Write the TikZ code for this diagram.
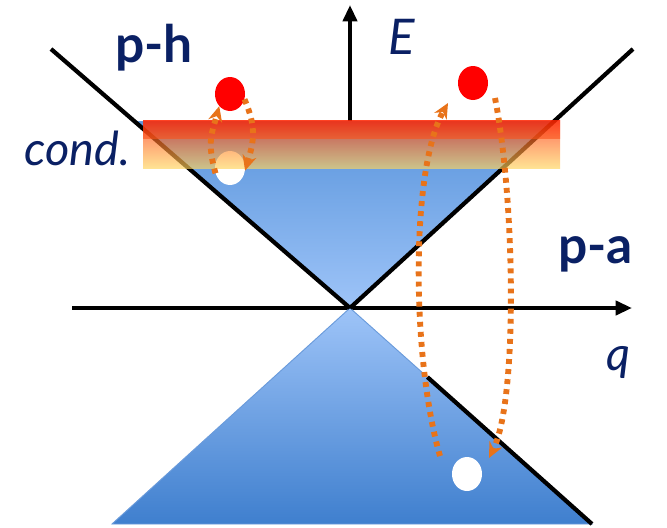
\documentclass[tikz,border=0pt]{standalone}
\usepackage{fontspec}
\setmainfont{Lato}
\usepackage{xcolor}
\usepackage{tikz}
\usetikzlibrary{arrows.meta,calc,shapes.geometric}
\definecolor{navy}{HTML}{0A2064}
\definecolor{hopc}{HTML}{E8731A}
\definecolor{conelight}{HTML}{9EC4F8}
\definecolor{conedark}{HTML}{5A95DC}
\definecolor{conedeep}{HTML}{3F7FCE}
\definecolor{coneedge}{HTML}{6A9BDB}
\definecolor{bandtop}{HTML}{FF2400}
\definecolor{bandmid}{HTML}{F88A35}
\definecolor{bandbot}{HTML}{FFD45C}

\begin{document}
\begin{tikzpicture}[x=0.03cm,y=-0.03cm,
    axis/.style={line width=3.4pt,-{Triangle[length=14pt,width=12pt]}},
    branch/.style={line width=3.6pt},
    dot/.style={ellipse,minimum width=0.9cm,minimum height=1.02cm,inner sep=0pt},
    hop/.style={draw=hopc,line width=5pt,dash pattern=on 4.2pt off 4.4pt,
                -{Stealth[length=13pt,width=12pt]}},
    lbl/.style={text=navy,inner sep=0pt,anchor=base west}]
  \useasboundingbox (0,0) rectangle (667,527);

  % points of the two branches
  \coordinate (D)  at (350,308);
  \coordinate (L)  at (51,49);
  \coordinate (R)  at (633,49);
  \coordinate (BL) at (112,524);
  \coordinate (BR) at (592,524);

  % axes
  \coordinate (qleft)  at (72,308);
  \coordinate (qright) at (632,308);
  \coordinate (Ebot)   at (350,131);
  \coordinate (Etop)   at (350,5);
  \draw[axis] (qleft) -- (qright);
  \draw[axis] (Ebot) -- (Etop);

  % filled cones
  \shade[top color=conedark,bottom color=conelight,draw=coneedge,line width=0.8pt]
    ($(D)!0.72!(L)$) -- ($(D)!0.72!(R)$) -- (D) -- cycle;
  \shade[top color=conelight,bottom color=conedeep,draw=coneedge,line width=0.8pt]
    (D) -- (BL) -- (BR) -- cycle;

  % dispersion lines
  \draw[branch] (L) -- (D);
  \draw[branch] (R) -- (D);
  \draw[branch] ($(D)!0.32!(BR)$) -- (BR);

  % holes
  \node[dot,fill=white] (w1) at (230,168) {};
  \node[dot,fill=white] (w2) at (467,474) {};

  % condensate band (denser near the top)
  \shade[top color=bandtop,middle color=bandmid,bottom color=bandbot,fill opacity=0.66]
    (143,120) rectangle (560,168);
  \shade[top color=bandtop,bottom color=bandtop!55!bandmid,fill opacity=0.6]
    (143,120) rectangle (560,138);

  % particles
  \node[dot,fill=red] (r1) at (230,94) {};
  \node[dot,fill=red] (r2) at (473,83) {};

  % hops
  \draw[hop] (w1.200) .. controls +(-9,-32) and +(-7,26) .. (r1.south west);
  \draw[hop] (r1.-20) .. controls +(12,28) and +(9,-30) .. (w1.-10);
  \draw[hop] ($(w2)+(-27,-18)$) .. controls (412,360) and (410,170) .. ($(r2)+(-25,20)$);
  \draw[hop] ($(r2)+(22,15)$) .. controls (515,200) and (518,400) .. ($(w2)+(22,-16)$);

  % labels
  \node[lbl,font=\bfseries\fontsize{44}{44}\selectfont] (ph) at (115,62) {p-h};
  \node[lbl,font=\bfseries\fontsize{44}{44}\selectfont] (pa) at (558,263) {p-a};
  \node[lbl,font=\itshape\fontsize{40}{40}\selectfont] (cond) at (24,165) {cond.};
  \node[lbl,font=\itshape\fontsize{42}{42}\selectfont] (E) at (388,54) {E};
  \node[lbl,font=\itshape\fontsize{40}{40}\selectfont] (q) at (606,370) {q};
\end{tikzpicture}
\end{document}
